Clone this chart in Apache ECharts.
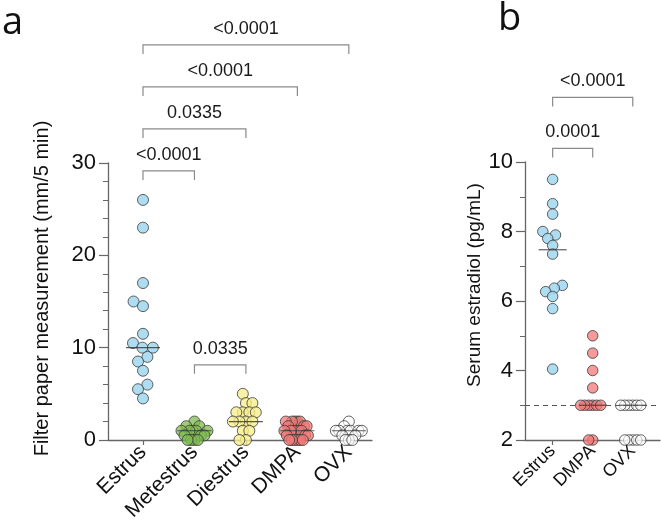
<!DOCTYPE html>
<html>
<head>
<meta charset="utf-8">
<script src="https://cdn.jsdelivr.net/npm/echarts@6/dist/echarts.min.js"></script>
<style>
  html, body { margin: 0; padding: 0; background: #fff; }
  #main { width: 661px; height: 522px; }
</style>
</head>
<body>
<div id="main"></div>
<script>
// panel a - filter paper measurement (mm/5 min)
var catsA = ['Estrus', 'Metestrus', 'Diestrus', 'DMPA', 'OVX'];
var estrusA = [26, 23, 17, 15, 14.5, 11.5, 10.5, 10, 10, 9, 8.5, 7.5, 6, 5.5, 4.5];
var metestrusA = [2, 1.5, 1.5, 1, 1, 1, 1, 1, 0.5, 0.5, 0.5, 0, 0, 0, 0];
var diestrusA = [5, 4, 4, 3, 3, 3, 3, 2, 2, 2, 2, 1, 1, 0, 0];
var dmpaA = [2, 2, 2, 2, 2, 1.5, 1.5, 1.5, 1, 1, 1, 1, 1, 1, 0.5, 0.5, 0.5, 0, 0, 0, 0, 0, 0];
var ovxA = [2, 1.5, 1, 1, 1, 1, 1, 1, 0.5, 0.5, 0, 0, 0];
// comparisons: group, group, p value
var statsA = [[0, 1, '<0.0001'], [1, 2, '0.0335'], [0, 2, '0.0335'], [0, 3, '<0.0001'], [0, 4, '<0.0001']];

// panel b - serum estradiol (pg/mL)
var catsB = ['Estrus', 'DMPA', 'OVX'];
var estrusB = [9.5, 8.8, 8.5, 8.0, 7.9, 7.8, 7.6, 7.35, 6.45, 6.37, 6.27, 6.13, 5.78, 4.04];
var dmpaB = [5, 4.5, 4, 3.5, 3, 3, 3, 3, 3, 3, 2, 2];
var ovxB = [3, 3, 3, 3, 3, 3, 2, 2, 2, 2, 2];
var statsB = [[0, 1, '0.0001'], [0, 2, '<0.0001']];
var limitB = 3; // dashed line

var fills = {
  blue: 'rgba(160,215,240,0.85)',
  green: 'rgba(125,185,80,0.75)',
  yellow: 'rgba(248,238,140,0.8)',
  red: 'rgba(240,120,120,0.75)',
  white: 'rgba(255,255,255,0.6)'
};

var chart = echarts.init(document.getElementById('main'));

// grid geometry
var gA = { left: 108, top: 163, width: 264, height: 277, xMin: -0.68, xMax: 4.45, yMin: 0, yMax: 30 };
var gB = { left: 525, top: 162, width: 135, height: 278, xMin: -0.69, xMax: 2.68, yMin: 2, yMax: 10 };

function median(arr) {
  var s = arr.slice().sort(function (a, b) { return a - b; });
  var n = s.length;
  return n % 2 ? s[(n - 1) / 2] : (s[n / 2 - 1] + s[n / 2]) / 2;
}

// simple beeswarm: greedy placement in pixel space, squeezed to maxHalf
function swarm(values, g, diam, maxHalf) {
  var pxY = g.height / (g.yMax - g.yMin);
  var pxX = g.width / (g.xMax - g.xMin);
  var order = values.map(function (v, i) { return i; })
    .sort(function (a, b) { return values[a] - values[b]; });
  var placed = [];
  var offs = [];
  order.forEach(function (i) {
    var y = values[i] * pxY;
    var cands = [0];
    placed.forEach(function (p) {
      var dy = Math.abs(p.y - y);
      if (dy < diam) {
        var dx = Math.sqrt(diam * diam - dy * dy);
        cands.push(p.x + dx + 0.01, p.x - dx - 0.01);
      }
    });
    cands.sort(function (a, b) { return Math.abs(a) - Math.abs(b) || a - b; });
    var x = cands.find(function (c) {
      return placed.every(function (p) {
        return (p.x - c) * (p.x - c) + (p.y - y) * (p.y - y) >= diam * diam - 0.1;
      });
    });
    placed.push({ x: x, y: y });
    offs[i] = x;
  });
  var m = Math.max.apply(null, offs.map(Math.abs));
  var k = m > maxHalf ? maxHalf / m : 1;
  return offs.map(function (o) { return o * k / pxX; });
}

function dotSeries(values, idx, g, axis, color, size, diam, maxHalf) {
  var offs = swarm(values, g, diam, maxHalf);
  return {
    type: 'scatter',
    xAxisIndex: axis, yAxisIndex: axis,
    symbolSize: size,
    itemStyle: { color: color, borderColor: '#3a3a3a', borderWidth: 0.8, opacity: 1 },
    data: values.map(function (v, i) { return [idx + offs[i], v]; }),
    z: 3
  };
}

function medianSeries(groups, axis, w) {
  return {
    type: 'scatter',
    xAxisIndex: axis, yAxisIndex: axis,
    symbol: 'rect',
    symbolSize: [w, 1.2],
    itemStyle: { color: '#333' },
    data: groups.map(function (arr, i) { return [i, median(arr)]; }),
    z: 4
  };
}

// significance brackets, stacked above the data
function bracketSeries(groups, stats, axis, gap, step, fontSize) {
  return {
    type: 'custom',
    xAxisIndex: axis, yAxisIndex: axis,
    clip: false, silent: true, z: 5,
    data: stats.map(function (s, k) { return [s[0], 0]; }),
    renderItem: function (params, api) {
      var order = stats.map(function (s, k) { return k; }).sort(function (a, b) {
        return (Math.abs(stats[a][1] - stats[a][0]) - Math.abs(stats[b][1] - stats[b][0])) || a - b;
      });
      var ys = {};
      var done = [];
      order.forEach(function (k) {
        var i = Math.min(stats[k][0], stats[k][1]), j = Math.max(stats[k][0], stats[k][1]);
        var y = Infinity;
        for (var g = i; g <= j; g++) {
          y = Math.min(y, api.coord([g, Math.max.apply(null, groups[g])])[1] - gap);
        }
        done.forEach(function (d) {
          if (i <= d.i && d.j <= j) y = Math.min(y, d.y - step);
        });
        ys[k] = y;
        done.push({ i: i, j: j, y: y });
      });
      var s = stats[params.dataIndex];
      var y = ys[params.dataIndex];
      var x1 = api.coord([s[0], 0])[0];
      var x2 = api.coord([s[1], 0])[0];
      return {
        type: 'group',
        children: [{
          type: 'polyline',
          shape: { points: [[x1, y + 9], [x1, y], [x2, y], [x2, y + 9]] },
          style: { stroke: '#8a8a8a', fill: null, lineWidth: 1.2 }
        }, {
          type: 'text',
          x: (x1 + x2) / 2, y: y - 7,
          style: {
            text: s[2], align: 'center', verticalAlign: 'bottom',
            fontSize: fontSize, fontFamily: 'Liberation Sans', fill: '#1a1a1a'
          }
        }]
      };
    }
  };
}

var axisLine = { show: true, onZero: false, lineStyle: { color: '#666', width: 1.3 } };

function xAxis(g, idx, cats, fontSize, margin) {
  var vals = cats.map(function (c, i) { return i; });
  return {
    type: 'value', gridIndex: idx, min: g.xMin, max: g.xMax,
    axisLine: axisLine,
    splitLine: { show: false },
    axisTick: { show: true, customValues: vals, length: 5, lineStyle: { color: '#666', width: 1.2 } },
    axisLabel: {
      customValues: vals, rotate: 45, margin: margin,
      fontSize: fontSize, fontFamily: 'Liberation Sans', color: '#111',
      formatter: function (v) { return cats[Math.round(v)]; }
    }
  };
}

var groupsA = [estrusA, metestrusA, diestrusA, dmpaA, ovxA];
var colorsA = [fills.blue, fills.green, fills.yellow, fills.red, fills.white];
var groupsB = [estrusB, dmpaB, ovxB];
var colorsB = [fills.blue, fills.red, fills.white];

var series = [];
groupsA.forEach(function (arr, i) {
  series.push(dotSeries(arr, i, gA, 0, colorsA[i], 11, 10.5, 13));
});
groupsB.forEach(function (arr, i) {
  series.push(dotSeries(arr, i, gB, 1, colorsB[i], 10.5, 8.5, 12));
});
series[5 + 1].markLine = {
  silent: true, symbol: ['none', 'none'],
  label: { show: false },
  lineStyle: { type: [5, 4], color: '#555', width: 1 },
  data: [{ yAxis: limitB }]
};
series.push(medianSeries(groupsA, 0, 34));
series.push(medianSeries(groupsB, 1, 28));
series.push(bracketSeries(groupsA, statsA, 0, 29, 42, 18));
series.push(bracketSeries(groupsB, statsB, 1, 31, 51, 18));

chart.setOption({
  backgroundColor: '#fff',
  animation: false,
  grid: [
    { left: gA.left, top: gA.top, width: gA.width, height: gA.height, outerBoundsMode: 'none' },
    { left: gB.left, top: gB.top, width: gB.width, height: gB.height, outerBoundsMode: 'none' }
  ],
  xAxis: [xAxis(gA, 0, catsA, 21, 9), xAxis(gB, 1, catsB, 18, 8)],
  yAxis: [{
    type: 'value', gridIndex: 0, min: 0, max: 30, interval: 10,
    axisLine: axisLine,
    splitLine: { show: false },
    axisTick: { show: true, length: 9, lineStyle: { color: '#666', width: 1.2 } },
    minorTick: { show: true, splitNumber: 5, length: 5, lineStyle: { color: '#666', width: 1 } },
    axisLabel: { fontSize: 22, fontFamily: 'Liberation Sans', color: '#111', margin: 12 },
    name: 'Filter paper measurement (mm/5 min)', nameLocation: 'middle', nameGap: 56,
    nameTextStyle: { fontSize: 20, fontFamily: 'Liberation Sans', color: '#111', padding: [0, 0, 0, 26] }
  }, {
    type: 'value', gridIndex: 1, min: 2, max: 10, interval: 2,
    axisLine: axisLine,
    splitLine: { show: false },
    axisTick: { show: true, length: 9, lineStyle: { color: '#666', width: 1.2 } },
    minorTick: { show: true, splitNumber: 2, length: 5, lineStyle: { color: '#666', width: 1 } },
    axisLabel: { fontSize: 22, fontFamily: 'Liberation Sans', color: '#111', margin: 12 },
    name: 'Serum estradiol (pg/mL)', nameLocation: 'middle', nameGap: 40,
    nameTextStyle: { fontSize: 19, fontFamily: 'Liberation Sans', color: '#111', padding: [0, 0, 0, 32] }
  }],
  graphic: [
    { type: 'text', left: 2, top: 4, style: { text: 'a', fontSize: 38, fontFamily: 'Open Sans', fill: '#111' } },
    { type: 'text', left: 498, top: 0, style: { text: 'b', fontSize: 38, fontFamily: 'Open Sans', fill: '#111' } }
  ],
  series: series
});
</script>
</body>
</html>
